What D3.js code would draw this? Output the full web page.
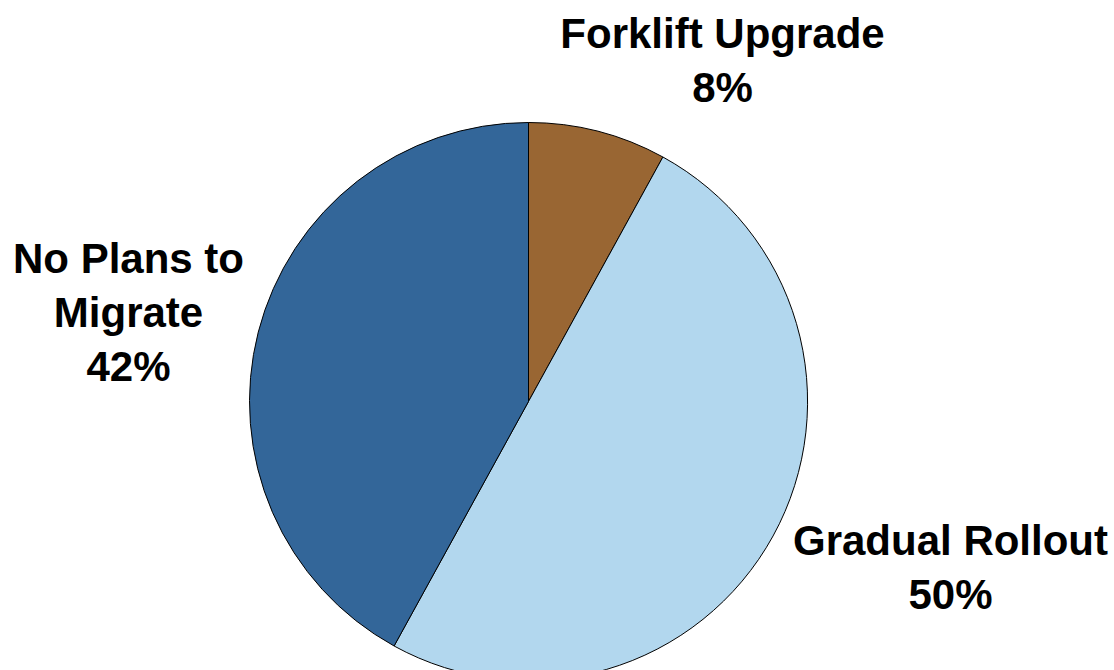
<!DOCTYPE html>
<html>
<head>
<meta charset="utf-8">
<script src="https://cdn.jsdelivr.net/npm/d3@7"></script>
<style>
  html, body { margin: 0; padding: 0; background: #ffffff; }
  svg { display: block; }
</style>
</head>
<body>
<svg id="chart"></svg>
<script>
// data
var categories = ["Forklift Upgrade", "Gradual Rollout", "No Plans to Migrate"];
var values = [8, 50, 42];
var labelLines = [["Forklift Upgrade"], ["Gradual Rollout"], ["No Plans to", "Migrate"]];
var colors = ["#996633", "#B2D7EE", "#336699"];

// label placement, offset from pie centre
var labelOffsets = [
  { dx: 194, dy: -354 },
  { dx: 422, dy: 153 },
  { dx: -400, dy: -129 }
];

var width = 1114, height = 670;
var cx = 528.5, cy = 401.5, radius = 279;
var lineGap = 54;

var svg = d3.select("#chart")
  .attr("width", width)
  .attr("height", height);

var pie = d3.pie()
  .sort(null)
  .value(function (d) { return d; });

var arc = d3.arc()
  .innerRadius(0)
  .outerRadius(radius);

var arcs = pie(values);

var g = svg.append("g")
  .attr("transform", "translate(" + cx + "," + cy + ")");

g.selectAll("path")
  .data(arcs)
  .enter()
  .append("path")
  .attr("d", arc)
  .style("fill", function (d, i) { return colors[i]; })
  .style("stroke", "#000000")
  .style("stroke-width", "1px")
  .style("stroke-linejoin", "round");

var labels = g.selectAll("text.label")
  .data(arcs)
  .enter()
  .append("text")
  .attr("class", "label")
  .attr("text-anchor", "middle")
  .style("font-family", "'Liberation Sans', Arial, sans-serif")
  .style("font-weight", "bold")
  .style("font-size", "42px")
  .style("fill", "#000000")
  .attr("transform", function (d, i) {
    return "translate(" + labelOffsets[i].dx + "," + labelOffsets[i].dy + ")";
  });

labels.each(function (d, i) {
  var t = d3.select(this);
  var lines = labelLines[i].concat([values[i] + "%"]);
  lines.forEach(function (line, j) {
    t.append("tspan")
      .attr("x", 0)
      .attr("y", j * lineGap)
      .text(line);
  });
});
</script>
</body>
</html>
